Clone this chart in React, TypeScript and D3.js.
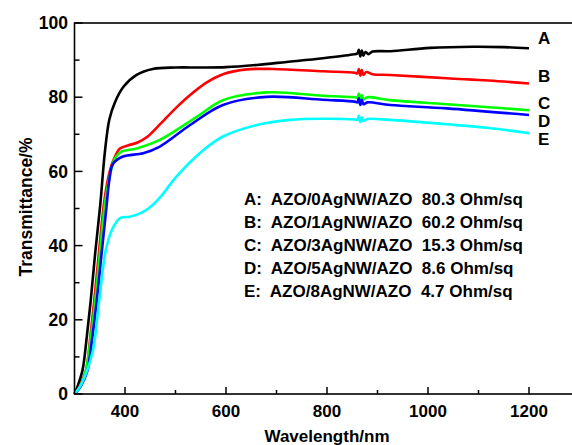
import React, { useRef, useEffect } from "react";
import * as d3 from "d3";

// wavelength (nm), transmittance (%)
const seriesA: [number, number][] = [
  [300, 0], [307, 2.4], [316, 6.5], [324, 15], [332, 25], [341, 38], [351, 51], [360, 65],
  [369, 74], [380, 78.6], [397, 82.8], [423, 86], [455, 87.6], [500, 88], [550, 88],
  [600, 88.1], [661, 88.7], [720, 89.5], [792, 90.5], [850, 91.5], [860, 91.8], [863, 92.8],
  [866, 91.0], [869, 92.6], [872, 91.2], [876, 92.2], [882, 91.6], [890, 92.3], [925, 92.4],
  [1004, 93.3], [1089, 93.6], [1150, 93.5], [1200, 93.2],
];
const seriesB: [number, number][] = [
  [300, 0], [310, 2], [323, 6.5], [331, 15], [339, 25], [349, 39], [359, 52], [368, 59],
  [377, 63], [390, 66.2], [406, 67], [425, 67.8], [445, 69.4], [470, 72.8], [500, 77],
  [529, 80.6], [562, 84], [594, 86.2], [641, 87.5], [693, 87.6], [792, 87], [855, 86.6],
  [860, 86.4], [863, 87.6], [866, 85.8], [869, 87.3], [872, 86], [878, 86.8], [890, 86.2],
  [925, 86], [1037, 85.1], [1120, 84.5], [1200, 83.7],
];
const seriesC: [number, number][] = [
  [300, 0], [311, 2], [322, 6], [332, 15], [341, 25], [351, 39], [361, 52], [372, 60],
  [380, 63.5], [393, 65.3], [423, 66.2], [469, 68.5], [542, 74.7], [594, 79.2], [680, 81.3],
  [792, 80.4], [855, 80.0], [860, 79.9], [863, 81.0], [866, 79.2], [869, 80.6], [872, 79.4],
  [880, 80.0], [925, 79.2], [1037, 78.1], [1200, 76.5],
];
const seriesD: [number, number][] = [
  [300, 0], [312, 2], [325, 6], [335, 15], [344, 25], [353, 37], [363, 50], [369, 57.7],
  [376, 62], [396, 64], [436, 64.9], [469, 66.7], [529, 72.5], [594, 77.9], [680, 80.1],
  [792, 79.3], [855, 78.8], [860, 78.6], [863, 79.7], [866, 77.9], [869, 79.3], [872, 78.1],
  [880, 78.6], [925, 77.9], [1037, 77], [1200, 75.2],
];
const seriesE: [number, number][] = [
  [300, 0], [311, 2], [324, 6], [337, 12], [349, 25.3], [362, 38.8], [374, 44.2], [390, 47.4],
  [410, 47.8], [432, 48.8], [452, 50.6], [472, 53.4], [500, 58.3], [548, 64.9], [594, 69.4],
  [661, 72.5], [727, 73.9], [792, 74.2], [855, 74.0], [860, 73.9], [863, 75.0], [866, 73.3],
  [869, 74.6], [872, 73.6], [880, 74.1], [925, 73.9], [1037, 72.7], [1120, 71.7], [1200, 70.3],
];

const seriesKeys = ["A", "B", "C", "D", "E"];
const seriesColors = ["#000000", "#ff0000", "#00ff00", "#0000ff", "#00ffff"];
const seriesNames = [
  "AZO/0AgNW/AZO  80.3 Ohm/sq",
  "AZO/1AgNW/AZO  60.2 Ohm/sq",
  "AZO/3AgNW/AZO  15.3 Ohm/sq",
  "AZO/5AgNW/AZO  8.6 Ohm/sq",
  "AZO/8AgNW/AZO  4.7 Ohm/sq",
];
const endLabelY = [43.5, 81.5, 109, 127, 145];

const xMajorTicks = [400, 600, 800, 1000, 1200];
const xMinorTicks = [500, 700, 900, 1100];
const yMajorTicks = [0, 20, 40, 60, 80, 100];
const yMinorTicks = [10, 30, 50, 70, 90];

const FONT = "'Liberation Sans', Arial, Helvetica, sans-serif";

const App = () => {
  const ref = useRef<SVGSVGElement>(null);

  useEffect(() => {
    if (!ref.current) return;
    const svg = d3.select(ref.current);
    svg.selectAll("*").remove();

    const x = d3.scaleLinear().domain([300, 1300]).range([74.5, 579.5]);
    const y = d3.scaleLinear().domain([0, 100]).range([394, 23]);

    const allSeries = [seriesA, seriesB, seriesC, seriesD, seriesE];

    const line = d3
      .line<[number, number]>()
      .x((d) => x(d[0]))
      .y((d) => y(d[1]))
      .curve(d3.curveCatmullRom.alpha(0.5));

    allSeries.forEach((s, i) => {
      svg
        .append("path")
        .attr("d", line(s))
        .attr("fill", "none")
        .attr("stroke", seriesColors[i])
        .attr("stroke-width", 2.6)
        .attr("stroke-linejoin", "round");
    });

    // frame
    const x0 = x(300), x1 = x(1300), yb = y(0), yt = y(100);
    svg.append("rect")
      .attr("x", x0).attr("y", yt)
      .attr("width", x1 - x0).attr("height", yb - yt)
      .attr("fill", "none").attr("stroke", "#000").attr("stroke-width", 1.6);

    // ticks
    const g = svg.append("g").attr("stroke", "#000").attr("stroke-width", 1.5);
    xMajorTicks.forEach((t) => {
      g.append("line").attr("x1", x(t)).attr("x2", x(t)).attr("y1", yb).attr("y2", yb - 7);
    });
    xMinorTicks.forEach((t) => {
      g.append("line").attr("x1", x(t)).attr("x2", x(t)).attr("y1", yb).attr("y2", yb - 4);
    });
    yMajorTicks.forEach((t) => {
      g.append("line").attr("x1", x0).attr("x2", x0 + 8).attr("y1", y(t)).attr("y2", y(t));
    });
    yMinorTicks.forEach((t) => {
      g.append("line").attr("x1", x0).attr("x2", x0 + 5).attr("y1", y(t)).attr("y2", y(t));
    });

    const txt = svg.append("g")
      .attr("font-family", FONT)
      .attr("font-weight", "bold")
      .attr("fill", "#000");

    xMajorTicks.forEach((t) => {
      txt.append("text")
        .attr("x", x(t)).attr("y", 416.5)
        .attr("text-anchor", "middle")
        .attr("font-size", 17)
        .text(t);
    });
    yMajorTicks.forEach((t) => {
      txt.append("text")
        .attr("x", 68).attr("y", y(t) + 6.2)
        .attr("text-anchor", "end")
        .attr("font-size", 17.5)
        .text(t);
    });

    txt.append("text")
      .attr("x", 327).attr("y", 442)
      .attr("text-anchor", "middle")
      .attr("font-size", 17)
      .text("Wavelength/nm");

    txt.append("text")
      .attr("transform", "translate(32,207) rotate(-90)")
      .attr("text-anchor", "middle")
      .attr("font-size", 17.5)
      .text("Transmittance/%");

    // end labels
    seriesKeys.forEach((k, i) => {
      txt.append("text")
        .attr("x", 538).attr("y", endLabelY[i])
        .attr("font-size", 17)
        .text(k);
    });

    // legend text
    seriesKeys.forEach((k, i) => {
      txt.append("text")
        .attr("x", 244).attr("y", 204.5 + i * 23.2)
        .attr("font-size", 17)
        .style("white-space", "pre")
        .text(`${k}:  ${seriesNames[i]}`);
    });
  }, []);

  return (
    <svg
      ref={ref}
      width={572}
      height={445}
      style={{ position: "absolute", left: 0, top: 0, background: "#fff" }}
    />
  );
};

export default App;
